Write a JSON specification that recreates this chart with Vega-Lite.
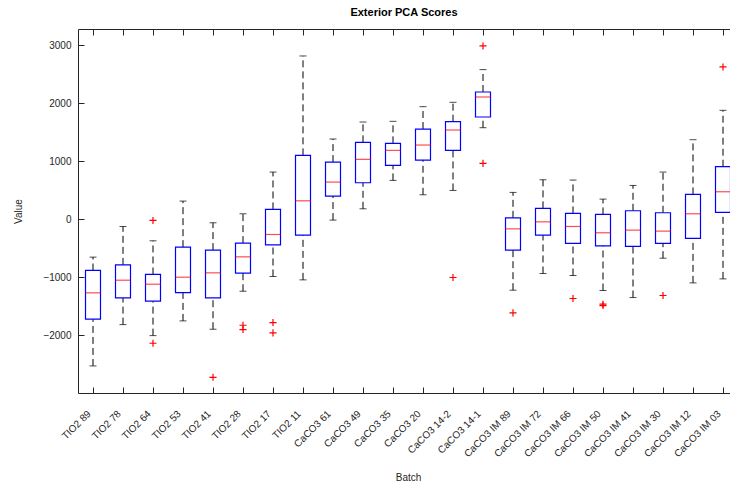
{
  "$schema": "https://vega.github.io/schema/vega-lite/v6.json",
  "autosize": "none",
  "width": 652,
  "height": 364,
  "padding": {"left": 78, "top": 29, "right": 0, "bottom": 91},
  "background": "white",
  "config": {
    "view": {"stroke": "#262626", "strokeWidth": 1},
    "font": "Liberation Sans",
    "axis": {"labelFont": "Liberation Sans", "titleFont": "Liberation Sans", "labelColor": "#262626", "titleColor": "#262626", "domain": false, "tickColor": "#262626", "grid": false, "labelFontSize": 10, "titleFontSize": 10, "titleFontWeight": "normal", "tickSize": 6, "offset": -6}
  },
  "title": {"text": "Exterior PCA Scores", "fontSize": 11, "fontWeight": "bold", "font": "Liberation Sans", "color": "#000000", "anchor": "middle", "offset": 11},
  "datasets": {
    "boxes": [
      {"batch": "TIO2 89", "lo": -2533, "q1": -1727, "med": -1272, "q3": -886, "hi": -656},
      {"batch": "TIO2 78", "lo": -1820, "q1": -1359, "med": -1054, "q3": -789, "hi": -127},
      {"batch": "TIO2 64", "lo": -2010, "q1": -1416, "med": -1123, "q3": -955, "hi": -374},
      {"batch": "TIO2 53", "lo": -1756, "q1": -1267, "med": -1002, "q3": -484, "hi": 311},
      {"batch": "TIO2 41", "lo": -1900, "q1": -1359, "med": -927, "q3": -535, "hi": -63},
      {"batch": "TIO2 28", "lo": -1244, "q1": -933, "med": -651, "q3": -415, "hi": 92},
      {"batch": "TIO2 17", "lo": -990, "q1": -443, "med": -265, "q3": 167, "hi": 812},
      {"batch": "TIO2 11", "lo": -1048, "q1": -276, "med": 316, "q3": 1100, "hi": 2815},
      {"batch": "CaCO3 61", "lo": -17, "q1": 397, "med": 639, "q3": 984, "hi": 1382},
      {"batch": "CaCO3 49", "lo": 178, "q1": 627, "med": 1031, "q3": 1324, "hi": 1675},
      {"batch": "CaCO3 35", "lo": 668, "q1": 927, "med": 1186, "q3": 1307, "hi": 1687},
      {"batch": "CaCO3 20", "lo": 420, "q1": 1019, "med": 1278, "q3": 1554, "hi": 1940},
      {"batch": "CaCO3 14-2", "lo": 495, "q1": 1186, "med": 1537, "q3": 1681, "hi": 2015},
      {"batch": "CaCO3 14-1", "lo": 1577, "q1": 1762, "med": 2107, "q3": 2193, "hi": 2579},
      {"batch": "CaCO3 IM 89", "lo": -1226, "q1": -535, "med": -168, "q3": 22, "hi": 461},
      {"batch": "CaCO3 IM 72", "lo": -938, "q1": -276, "med": -47, "q3": 185, "hi": 679},
      {"batch": "CaCO3 IM 66", "lo": -973, "q1": -420, "med": -127, "q3": 98, "hi": 674},
      {"batch": "CaCO3 IM 50", "lo": -1232, "q1": -460, "med": -236, "q3": 81, "hi": 345},
      {"batch": "CaCO3 IM 41", "lo": -1353, "q1": -472, "med": -190, "q3": 144, "hi": 581},
      {"batch": "CaCO3 IM 30", "lo": -674, "q1": -420, "med": -207, "q3": 110, "hi": 812},
      {"batch": "CaCO3 IM 12", "lo": -1100, "q1": -334, "med": 92, "q3": 426, "hi": 1370},
      {"batch": "CaCO3 IM 03", "lo": -1031, "q1": 115, "med": 472, "q3": 904, "hi": 1877}
    ],
    "outliers": [
      {"batch": "TIO2 64", "value": -23},
      {"batch": "TIO2 64", "value": -2142},
      {"batch": "TIO2 41", "value": -2729},
      {"batch": "TIO2 28", "value": -1831},
      {"batch": "TIO2 28", "value": -1905},
      {"batch": "TIO2 17", "value": -1785},
      {"batch": "TIO2 17", "value": -1963},
      {"batch": "CaCO3 14-2", "value": -1007},
      {"batch": "CaCO3 14-1", "value": 2988},
      {"batch": "CaCO3 14-1", "value": 962},
      {"batch": "CaCO3 IM 89", "value": -1618},
      {"batch": "CaCO3 IM 66", "value": -1370},
      {"batch": "CaCO3 IM 50", "value": -1468},
      {"batch": "CaCO3 IM 50", "value": -1491},
      {"batch": "CaCO3 IM 30", "value": -1318},
      {"batch": "CaCO3 IM 03", "value": 2625}
    ]
  },
  "resolve": {"axis": {"x": "independent", "y": "independent"}},
  "layer": [
    {
      "data": {"name": "boxes"},
      "mark": {"type": "rule", "color": "#000000", "strokeWidth": 1, "strokeDash": [7, 4]},
      "encoding": {
        "x": {"field": "batch", "type": "nominal", "sort": null,
          "scale": {"type": "point", "padding": 0.5, "range": [0, 660]},
          "axis": {"orient": "bottom", "title": "Batch", "labelAngle": -45, "labelAlign": "right", "labelBaseline": "alphabetic", "labelPadding": 21, "labelOffset": -2, "titlePadding": 14, "titleFontSize": 10}},
        "y": {"field": "lo", "type": "quantitative",
          "scale": {"domain": [-3000, 3280], "nice": false, "zero": false},
          "axis": {"orient": "left", "title": "Value", "format": "d", "values": [-2000, -1000, 0, 1000, 2000, 3000], "labelPadding": 7, "titlePadding": 19, "labelFlush": false}},
        "y2": {"field": "q1"}
      }
    },
    {
      "data": {"name": "boxes"},
      "mark": {"type": "rule", "color": "#000000", "strokeWidth": 1, "strokeDash": [7, 4]},
      "encoding": {
        "x": {"field": "batch", "type": "nominal", "sort": null,
          "axis": {"orient": "top", "title": null, "labels": false}},
        "y": {"field": "q3", "type": "quantitative", "axis": null},
        "y2": {"field": "hi"}
      }
    },
    {
      "data": {"name": "boxes"},
      "mark": {"type": "tick", "color": "#000000", "orient": "horizontal", "size": 7, "thickness": 1},
      "encoding": {
        "x": {"field": "batch", "type": "nominal", "sort": null, "axis": null},
        "y": {"field": "lo", "type": "quantitative", "axis": null}
      }
    },
    {
      "data": {"name": "boxes"},
      "mark": {"type": "tick", "color": "#000000", "orient": "horizontal", "size": 7, "thickness": 1},
      "encoding": {
        "x": {"field": "batch", "type": "nominal", "sort": null, "axis": null},
        "y": {"field": "hi", "type": "quantitative", "axis": null}
      }
    },
    {
      "data": {"name": "boxes"},
      "mark": {"type": "bar", "size": 15, "fill": "white", "fillOpacity": 0, "stroke": "#0000ff", "strokeWidth": 1.2},
      "encoding": {
        "x": {"field": "batch", "type": "nominal", "sort": null, "axis": null},
        "y": {"field": "q1", "type": "quantitative", "axis": null},
        "y2": {"field": "q3"}
      }
    },
    {
      "data": {"name": "boxes"},
      "mark": {"type": "tick", "color": "#ff0000", "orient": "horizontal", "size": 15, "thickness": 1.2},
      "encoding": {
        "x": {"field": "batch", "type": "nominal", "sort": null, "axis": null},
        "y": {"field": "med", "type": "quantitative", "axis": null}
      }
    },
    {
      "data": {"name": "outliers"},
      "mark": {"type": "point", "shape": "M-1,0L1,0M0,-1L0,1", "filled": false, "stroke": "#ff0000", "strokeWidth": 1.2, "size": 50, "opacity": 1},
      "encoding": {
        "x": {"field": "batch", "type": "nominal", "sort": null, "axis": null},
        "y": {"field": "value", "type": "quantitative", "axis": null}
      }
    }
  ]
}
